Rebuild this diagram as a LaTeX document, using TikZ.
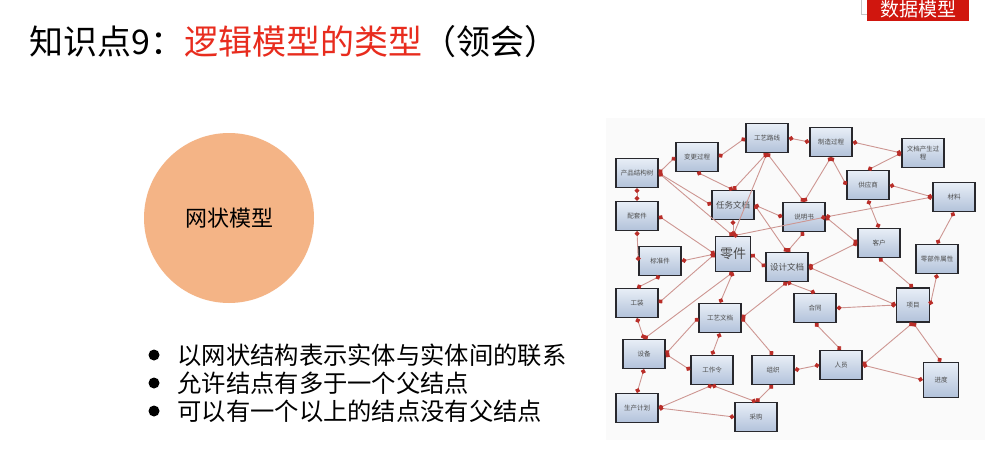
\documentclass[tikz,border=0pt]{standalone}
\usepackage{fontspec}
\newfontfamily\cjk{Noto Sans CJK SC}
\usetikzlibrary{arrows.meta}
\definecolor{titlered}{RGB}{232,44,30}
\definecolor{tagred}{RGB}{208,22,14}
\definecolor{circorange}{RGB}{244,180,134}
\definecolor{boxtop}{RGB}{232,238,247}
\definecolor{boxbot}{RGB}{178,194,218}
\definecolor{boxline}{RGB}{40,40,45}
\definecolor{linkc}{RGB}{205,150,146}
\definecolor{dotc}{RGB}{185,45,40}
\tikzset{
  ebox/.style={draw=boxline, line width=1.4pt, top color=boxtop, bottom color=boxbot,
    minimum width=42pt, minimum height=29pt, inner sep=1pt, align=center,
    font=\cjk\fontsize{6.5}{7.5}\selectfont, text=black!70},
  bigbox/.style={ebox, minimum width=35pt, minimum height=35pt},
  link/.style={draw=linkc, line width=0.9pt,
    {Circle[length=4.8pt,color=dotc]}-{Circle[length=4.8pt,color=dotc]}},
  bulletdot/.style={circle, fill=black, minimum size=11pt, inner sep=0pt},
  bullettext/.style={anchor=west, font=\cjk\fontsize{24.3}{26}\selectfont}
}
\begin{document}
\begin{tikzpicture}[x=1pt,y=1pt]
\useasboundingbox (0,0) rectangle (1004,-460);
\fill[white] (0,0) rectangle (1004,-460);

% title
\node[anchor=base west, inner sep=0pt, font=\cjk\fontsize{34}{36}\selectfont] (title) at (29,-55)
  {知识点9：\textcolor{titlered}{逻辑模型的类型}（领会）};

% top-right tag
\draw[gray!45, line width=0.6pt] (861,0) -- (861,-14) -- (867,-14);
\fill[tagred] (867,0) rectangle (969,-21);
\node[anchor=base, inner sep=0pt, text=white, font=\cjk\fontsize{19}{19}\selectfont] (tag) at (918,-17) {数据模型};

% circle
\node[circle, fill=circorange, minimum size=170pt, inner sep=0pt,
  font=\cjk\fontsize{22}{24}\selectfont] (net) at (229,-218) {网状模型};

% bullets
\node[bulletdot] (d1) at (154,-355) {};
\node[bulletdot] (d2) at (154,-383) {};
\node[bulletdot] (d3) at (154,-411) {};
\node[bullettext] (b1) at (174,-355) {以网状结构表示实体与实体间的联系};
\node[bullettext] (b2) at (174,-383) {允许结点有多于一个父结点};
\node[bullettext] (b3) at (174,-411) {可以有一个以上的结点没有父结点};

% network picture background
\fill[black!2] (606,-118) rectangle (985,-440);

% boxes
\node[ebox] (pst) at (637,-173) {产品结构树};
\node[ebox] (bg) at (697,-157) {变更过程};
\node[ebox] (gylx) at (767,-138) {工艺路线};
\node[ebox] (zz) at (831,-142) {制造过程};
\node[ebox] (wd) at (923,-153) {文档产生过\\程};
\node[ebox] (ptj) at (637,-216) {配套件};
\node[ebox] (rw) at (733,-205) {\fontsize{8.5}{9}\selectfont 任务文档};
\node[ebox] (sms) at (804,-217) {说明书};
\node[ebox] (gys) at (868,-185) {供应商};
\node[ebox] (cl) at (954,-197) {材料};
\node[ebox] (bzj) at (660,-261) {标准件};
\node[bigbox] (lj) at (733,-254) {\fontsize{13}{14}\selectfont 零件};
\node[ebox] (sj) at (787,-267) {\fontsize{8.5}{9}\selectfont 设计文档};
\node[ebox] (kh) at (879,-243) {客户};
\node[ebox] (lbj) at (937,-259) {零部件属性};
\node[ebox] (gz) at (637,-303) {工装};
\node[ebox] (gywd) at (720,-318) {工艺文档};
\node[ebox] (ht) at (815,-308) {合同};
\node[ebox, minimum width=33pt, minimum height=34pt] (xm) at (913,-305) {项目};
\node[ebox] (sb) at (644,-354) {设备};
\node[ebox] (gzl) at (712,-370) {工作令};
\node[ebox] (zzh) at (773,-370) {组织};
\node[ebox] (ry) at (841,-365) {人员};
\node[bigbox] (jd) at (941,-380) {进度};
\node[ebox] (sc) at (637,-408) {生产计划};
\node[ebox] (cg) at (756,-417) {采购};

% connectors
\path[link] (pst.east) -- (bg.west);
\path[link] (pst.east) -- (rw.west);
\path[link] (pst.east) -- (lj.north);
\path[link] (pst.south) -- (ptj.north);
\path[link] (bg.east) -- (gylx.west);
\path[link] (bg.south) -- (rw.north);
\path[link] (gylx.south) -- (rw.north);
\path[link] (gylx.south) -- (lj.north);
\path[link] (gylx.south) -- (sms.north);
\path[link] (gylx.east) -- (zz.west);
\path[link] (zz.east) -- (wd.west);
\path[link] (wd.west) -- (gys.north);
\path[link] (zz.south) -- (sms.north);
\path[link] (zz.south) -- (gys.west);
\path[link] (gys.east) -- (cl.west);
\path[link] (gys.south) -- (kh.north);
\path[link] (rw.east) -- (sms.west);
\path[link] (rw.east) -- (sj.north);
\path[link] (rw.south) -- (lj.north);
\path[link] (lj.north) -- (sms.east);
\path[link] (sms.east) -- (cl.west);
\path[link] (sms.east) -- (kh.west);
\path[link] (sms.south) -- (sj.north);
\path[link] (sj.east) -- (kh.west);
\path[link] (sj.east) -- (xm.west);
\path[link] (kh.south) -- (xm.north);
\path[link] (cl.south) -- (lbj.north);
\path[link] (lbj.south) -- (xm.east);
\path[link] (xm.west) -- (ht.east);
\path[link] (sj.south) -- (ht.north);
\path[link] (ht.south) -- (ry.north);
\path[link] (xm.south) -- (ry.east);
\path[link] (xm.south) -- (jd.north);
\path[link] (ry.east) -- (jd.west);
\path[link] (ry.west) -- (zzh.east);
\path[link] (lj.west) -- (bzj.east);
\path[link] (lj.west) -- (gz.east);
\path[link] (lj.west) -- (ptj.east);
\path[link] (lj.south) -- (sb.north);
\path[link] (lj.south) -- (gywd.north);
\path[link] (lj.east) -- (sj.west);
\path[link] (sj.south) -- (gywd.east);
\path[link] (gywd.west) -- (sb.east);
\path[link] (sb.east) -- (gzl.west);
\path[link] (gywd.south) -- (gzl.north);
\path[link] (gywd.east) -- (zzh.north);
\path[link] (bzj.south) -- (gz.north);
\path[link] (ptj.south) -- (bzj.west);
\path[link] (gz.south) -- (sb.north);
\path[link] (sb.south) -- (sc.north);
\path[link] (sc.east) -- (gzl.south);
\path[link] (sc.east) -- (cg.west);
\path[link] (cg.north) -- (zzh.south);
\path[link] (cg.north) -- (gzl.south);
\end{tikzpicture}
\end{document}
